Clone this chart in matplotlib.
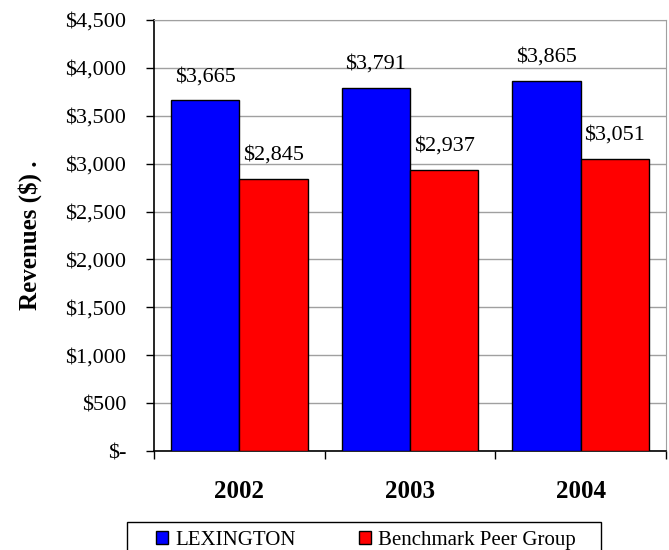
import matplotlib.pyplot as plt
import numpy as np
from matplotlib.patches import Rectangle
from matplotlib.ticker import FuncFormatter, FixedLocator

years = ['2002', '2003', '2004']
lexington = [3665, 3791, 3865]
peer_group = [2845, 2937, 3051]
series_names = ['LEXINGTON', 'Benchmark Peer Group']


def dollar_fmt(v, pos):
    if v == 0:
        return '$-'
    return '${:,.0f}'.format(v)


plt.rcParams['font.family'] = ['Liberation Serif', 'DejaVu Serif']

W, H = 669, 550
fig = plt.figure(figsize=(W / 100, H / 100), dpi=100)
ax = fig.add_axes([154 / W, 1 - 451 / H, 512 / W, 431 / H])

x = np.arange(len(years))
width = 0.40
bars1 = ax.bar(x - width / 2, lexington, width, color='#0000ff', edgecolor='black',
               linewidth=1, label=series_names[0], zorder=3)
bars2 = ax.bar(x + width / 2, peer_group, width, color='#ff0000', edgecolor='black',
               linewidth=1, label=series_names[1], zorder=3)

for bars, vals in [(bars1, lexington), (bars2, peer_group)]:
    for b, v in zip(bars, vals):
        ax.annotate('${:,}'.format(v), (b.get_x() + b.get_width() / 2, v),
                    xytext=(0, 10), textcoords='offset points',
                    ha='center', va='bottom', fontsize=16)

ax.set_xlim(-0.5, 2.5)
ax.set_ylim(0, 4500)
ax.set_yticks(np.arange(0, 4501, 500))
ax.yaxis.set_major_formatter(FuncFormatter(dollar_fmt))
ax.grid(axis='y', color='#a0a0a0', linewidth=1, zorder=0)
ax.tick_params(axis='y', labelsize=16, length=6, width=1, direction='out', pad=14)

# category boundaries get tick marks, year labels sit at the centres
ax.xaxis.set_major_locator(FixedLocator([-0.5, 0.5, 1.5, 2.5]))
ax.xaxis.set_major_formatter(FuncFormatter(lambda v, p: ''))
ax.xaxis.set_minor_locator(FixedLocator(x))
ax.set_xticklabels(years, minor=True)
ax.tick_params(axis='x', which='major', length=6, width=1, direction='out')
ax.tick_params(axis='x', which='minor', length=0, pad=21, labelsize=18)
for lbl in ax.get_xticklabels(minor=True):
    lbl.set_fontweight('bold')

ax.spines['top'].set_color('#a0a0a0')
ax.spines['right'].set_color('#a0a0a0')
ax.spines['left'].set_linewidth(1.2)
ax.spines['bottom'].set_linewidth(1.2)

ax.set_ylabel('Revenues ($) .', fontsize=18, fontweight='bold', labelpad=17)

# legend entries without their own frame, boxed by a plain rectangle
leg = fig.legend(loc='upper center', bbox_to_anchor=(366 / W, 1 - 531 / H), ncol=2,
                 fontsize=15, frameon=False, borderpad=0, borderaxespad=0,
                 handlelength=0.6, handleheight=0.6, handletextpad=0.35,
                 columnspacing=3.0)
for h in leg.legend_handles:
    h.set_linewidth(1)
    h.set_edgecolor('black')
fig.patches.append(Rectangle((127 / W, -0.05), 474 / W, 0.05 + 1 - 522 / H,
                             transform=fig.transFigure, fill=False,
                             edgecolor='black', linewidth=1))

fig.savefig('out.png', dpi=100)
